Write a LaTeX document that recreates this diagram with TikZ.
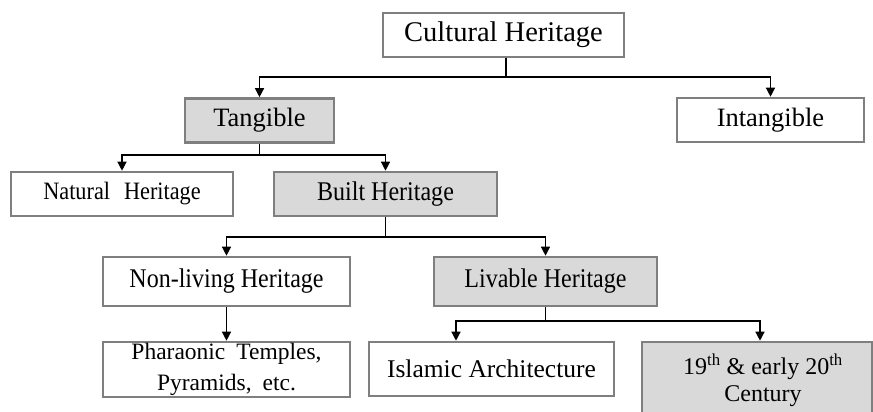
\documentclass[tikz,border=0pt]{standalone}
\usepackage{fontspec}
\setmainfont{Liberation Serif}
\newfontfamily\narrowserif[FakeStretch=0.89]{Liberation Serif}
\usetikzlibrary{arrows.meta}
\definecolor{boxline}{HTML}{7F7F7F}
\definecolor{boxfill}{HTML}{D9D9D9}
\tikzset{
  hbox/.style={draw=boxline, line width=2.6pt, inner sep=0pt, align=center,
               font=\fontsize{24}{28}\selectfont},
  plainbox/.style={hbox, fill=white},
  shadedbox/.style={hbox, fill=boxfill},
  bigfont/.style={font=\fontsize{28.5}{32}\selectfont},
  midfont/.style={font=\fontsize{26.5}{30}\selectfont},
  narrowfont/.style={font=\narrowserif\fontsize{27}{31}\selectfont},
  stem/.style={line width=1.3pt, black},
  link/.style={stem, -{Triangle[length=9pt,width=9pt]}},
}
\begin{document}
\begin{tikzpicture}[x=1pt,y=-1pt]
\useasboundingbox (0,0) rectangle (873,412);
\clip (0,0) rectangle (873,412);
\fill[white] (0,0) rectangle (873,412);

% level 1
\node[plainbox, bigfont, minimum width=241pt, minimum height=44pt] (cult) at (503.5,35) {Cultural Heritage};

% level 2
\node[shadedbox, midfont, minimum width=149pt, minimum height=44pt] (tang) at (259.5,120.5) {Tangible};
\node[plainbox, midfont, minimum width=187pt, minimum height=44pt] (intang) at (770.5,120) {Intangible};

% level 3
\node[plainbox, font=\narrowserif\fontsize{25}{29}\selectfont, minimum width=222pt, minimum height=44pt] (nat) at (122,194) {Natural\hspace{14pt}Heritage};
\node[shadedbox, narrowfont, minimum width=223pt, minimum height=44pt] (built) at (385.5,194) {Built Heritage};

% level 4
\node[plainbox, narrowfont, minimum width=247pt, minimum height=49pt] (nonliv) at (226.5,281.5) {Non-living Heritage};
\node[shadedbox, narrowfont, minimum width=223pt, minimum height=49pt] (liv) at (545.5,281.5) {Livable Heritage};

% level 5
\node[plainbox, font=\fontsize{23.5}{28}\selectfont, minimum width=247pt, minimum height=55pt] (phar) at (226.5,369.5)
  {Pharaonic\hspace{11pt}Temples,\\[3pt]Pyramids,\hspace{11pt}etc.};
\node[plainbox, font=\fontsize{25.5}{30}\selectfont, minimum width=245pt, minimum height=54pt] (islam) at (491.5,369) {Islamic Architecture};
\node[shadedbox, minimum width=230pt, minimum height=100pt] (c19) at (757,392) {};
\node[inner sep=0pt, align=center, font=\fontsize{24}{27}\selectfont] (c19txt) at (763,380)
  {19\textsuperscript{th} \& early 20\textsuperscript{th}\\Century};

% bus lines and drop points
\coordinate (bus1) at (0,77);
\coordinate (bus2) at (0,155);
\coordinate (bus3) at (0,237);
\coordinate (bus4) at (0,321);
\coordinate (cultout) at (506,0);
\coordinate (islamin) at (456,0);
\coordinate (c19in) at (760,0);

\draw[stem] (cultout |- cult.south) -- (cultout |- bus1);
\draw[link] (cultout |- bus1) -| (tang.north);
\draw[link] (cultout |- bus1) -| (intang.north);

\draw[stem] (tang.south) -- (tang.south |- bus2);
\draw[link] (tang.south |- bus2) -| (nat.north);
\draw[link] (tang.south |- bus2) -| (built.north);

\draw[stem] (built.south) -- (built.south |- bus3);
\draw[link] (built.south |- bus3) -| (nonliv.north);
\draw[link] (built.south |- bus3) -| (liv.north);

\draw[link] (nonliv.south) -- (phar.north);

\draw[stem] (liv.south) -- (liv.south |- bus4);
\draw[link] (liv.south |- bus4) -| (islamin |- islam.north);
\draw[link] (liv.south |- bus4) -| (c19in |- c19.north);
\end{tikzpicture}
\end{document}
